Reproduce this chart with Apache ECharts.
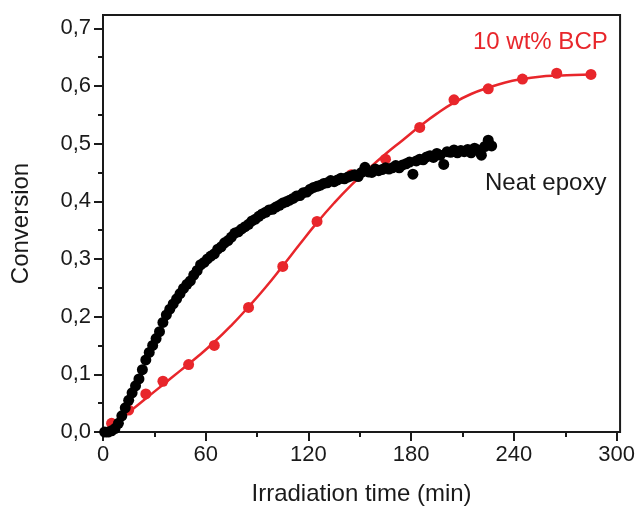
<!DOCTYPE html>
<html>
<head>
<meta charset="utf-8">
<style>
  html, body { margin: 0; padding: 0; background: #fff; }
  #chart { width: 638px; height: 511px; }
</style>
<script src="https://cdn.jsdelivr.net/npm/echarts@6/dist/echarts.min.js"></script>
</head>
<body>
<div id="chart"></div>
<script>
// Neat epoxy (black dots)
const neatTime = [
  1, 3, 5, 7, 9, 11, 13, 15, 17, 19, 21, 23, 25, 27, 29, 31, 33, 35, 37, 39,
  41, 43, 45, 47, 49, 51, 53, 55, 57, 59, 61, 63, 65, 67, 69, 71, 73, 75, 77, 79,
  81, 83, 85, 87, 89, 91, 93, 95, 97, 99, 101, 103, 105, 107, 109, 111, 113, 115, 117, 119,
  121, 123, 125, 127, 129, 131, 133, 135, 137, 139, 141, 143, 145, 147, 149, 151, 153, 155, 157, 159,
  161, 163, 165, 167, 169, 171, 173, 175, 177, 179, 181, 183, 185, 187, 189, 191, 193, 195, 197, 199,
  201, 203, 205, 207, 209, 211, 213, 215, 217, 219, 221, 223, 225, 227
];
const neatConv = [
  0.000, 0.000, 0.002, 0.006, 0.015, 0.028, 0.042, 0.055, 0.068, 0.080, 0.092, 0.108, 0.125, 0.138, 0.150, 0.162, 0.174, 0.190, 0.203, 0.213,
  0.222, 0.231, 0.240, 0.249, 0.256, 0.262, 0.272, 0.280, 0.290, 0.294, 0.300, 0.305, 0.309, 0.317, 0.321, 0.328, 0.332, 0.338, 0.345, 0.347,
  0.352, 0.356, 0.360, 0.366, 0.369, 0.374, 0.378, 0.381, 0.385, 0.386, 0.390, 0.393, 0.397, 0.399, 0.402, 0.405, 0.409, 0.410, 0.415, 0.416,
  0.421, 0.424, 0.426, 0.428, 0.431, 0.432, 0.436, 0.434, 0.437, 0.440, 0.439, 0.442, 0.444, 0.446, 0.443, 0.450, 0.459, 0.451, 0.450, 0.456,
  0.453, 0.455, 0.458, 0.456, 0.458, 0.462, 0.458, 0.463, 0.465, 0.468, 0.447, 0.470, 0.473, 0.472, 0.477, 0.479, 0.476, 0.483, 0.480, 0.464,
  0.486, 0.485, 0.489, 0.484, 0.488, 0.486, 0.490, 0.484, 0.492, 0.489, 0.480, 0.495, 0.506, 0.496
];

// 10 wt% BCP (red dots)
const bcpTime = [5, 15, 25, 35, 50, 65, 85, 105, 125, 145, 165, 185, 205, 225, 245, 265, 285];
const bcpConv = [0.015, 0.038, 0.066, 0.088, 0.117, 0.150, 0.216, 0.287, 0.365, 0.446, 0.473, 0.528, 0.576, 0.595, 0.612, 0.622, 0.620];

// fitted curve through the BCP points
const fitTime = [5, 15, 25, 35, 45, 55, 65, 75, 85, 95, 105, 115, 125, 135, 145, 155, 165, 175, 185, 195, 205, 215, 225, 235, 245, 255, 265, 275, 285];
const fitConv = [0.010, 0.034, 0.058, 0.082, 0.106, 0.130, 0.156, 0.185, 0.217, 0.251, 0.288, 0.326, 0.363, 0.397, 0.428, 0.456, 0.482, 0.506, 0.530, 0.552, 0.571, 0.586, 0.597, 0.606, 0.612, 0.616, 0.618, 0.619, 0.620];

// axis ticks
const xTicks = [0, 60, 120, 180, 240, 300];
const xMinor = [30, 90, 150, 210, 270];
const yTicks = [0, 0.1, 0.2, 0.3, 0.4, 0.5, 0.6, 0.7];
const yMinor = [0.05, 0.15, 0.25, 0.35, 0.45, 0.55, 0.65];

const FONT = '"Liberation Sans", Arial, sans-serif';
const INK = '#1a1a1a';
const RED = '#e8262b';

const pairs = (xs, ys) => xs.map((x, i) => [x, ys[i]]);

const tickStyle = { color: INK, width: 2 };
const chart = echarts.init(document.getElementById('chart'));
chart.setOption({
    animation: false,
    grid: {
        left: 103, right: 14, top: 15, bottom: 77,
        show: true, borderColor: INK, borderWidth: 2
    },
    xAxis: [
        {
            type: 'value', min: 0, max: 302, position: 'bottom',
            name: 'Irradiation time (min)',
            nameLocation: 'middle',
            nameGap: 50,
            nameTextStyle: { fontFamily: FONT, fontSize: 24, color: INK },
            axisLine: { show: true, onZero: false, lineStyle: tickStyle },
            axisTick: { show: true, inside: false, length: 9, customValues: xTicks, lineStyle: tickStyle },
            axisLabel: {
                customValues: xTicks, margin: 12,
                fontFamily: FONT, fontSize: 22, color: INK,
                formatter: v => String(v)
            },
            splitLine: { show: false }
        },
        {
            type: 'value', min: 0, max: 302, position: 'bottom',
            axisLine: { show: false },
            axisTick: { show: true, inside: false, length: 5, customValues: xMinor, lineStyle: tickStyle },
            axisLabel: { show: false },
            splitLine: { show: false }
        }
    ],
    yAxis: [
        {
            type: 'value', min: 0, max: 0.723, position: 'left',
            name: 'Conversion',
            nameLocation: 'middle',
            nameGap: 70,
            nameTextStyle: { fontFamily: FONT, fontSize: 24, color: INK },
            axisLine: { show: true, onZero: false, lineStyle: tickStyle },
            axisTick: { show: true, inside: false, length: 9, customValues: yTicks, lineStyle: tickStyle },
            axisLabel: {
                customValues: yTicks, margin: 12,
                fontFamily: FONT, fontSize: 22, color: INK,
                formatter: v => v.toFixed(1).replace('.', ',')
            },
            splitLine: { show: false }
        },
        {
            type: 'value', min: 0, max: 0.723, position: 'left',
            axisLine: { show: false },
            axisTick: { show: true, inside: false, length: 5, customValues: yMinor, lineStyle: tickStyle },
            axisLabel: { show: false },
            splitLine: { show: false }
        }
    ],
    series: [
        {
            name: 'fit',
            type: 'line',
            smooth: 0.5,
            symbol: 'none',
            data: pairs(fitTime, fitConv),
            lineStyle: { color: RED, width: 2.5 },
            z: 2
        },
        {
            name: '10 wt% BCP',
            type: 'scatter',
            symbol: 'circle',
            symbolSize: 11,
            data: pairs(bcpTime, bcpConv),
            itemStyle: { color: RED, opacity: 1 },
            z: 3
        },
        {
            name: 'Neat epoxy',
            type: 'scatter',
            symbol: 'circle',
            symbolSize: 11,
            data: pairs(neatTime, neatConv),
            itemStyle: { color: '#000', opacity: 1 },
            z: 4
        }
    ],
    graphic: [
        {
            type: 'text', left: 473, top: 30,
            style: { text: '10 wt% BCP', fill: RED, font: '24px ' + FONT }
        },
        {
            type: 'text', left: 485, top: 171,
            style: { text: 'Neat epoxy', fill: INK, font: '24px ' + FONT }
        }
    ]
});

window.addEventListener('resize', function () {
    chart.resize();
});
</script>
</body>
</html>
